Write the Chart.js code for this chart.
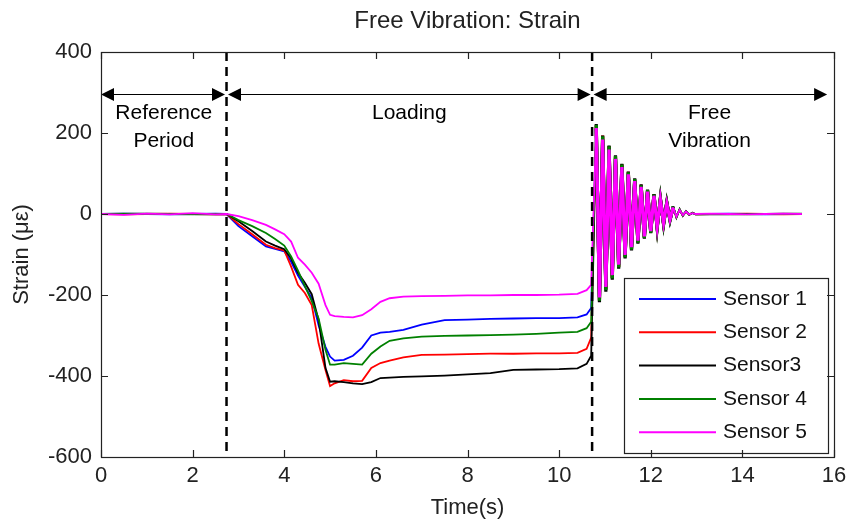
<!DOCTYPE html>
<html><head><meta charset="utf-8">
<style>html,body{margin:0;padding:0;background:#fff;}#wrap{width:847px;height:522px;}</style>
<script src="https://cdn.jsdelivr.net/npm/chart.js@4.4.1/dist/chart.umd.min.js"></script>
</head><body><div id="wrap"><canvas id="c" width="847" height="522"></canvas></div>
<script>
// ---- data ----
const time = [
  0, 0.5, 1.0, 1.5, 2.0, 2.5, 2.74,
  3.0, 3.3, 3.6, 3.8, 4.0, 4.15, 4.3, 4.45, 4.6, 4.75, 4.9, 5.0, 5.1, 5.3, 5.5, 5.7, 5.9, 6.1, 6.3, 6.6, 7.0, 7.5, 8.0, 8.5, 9.0, 9.5, 10.0, 10.4, 10.6, 10.7,
  10.81, 10.88, 10.95, 11.02, 11.09, 11.16, 11.23, 11.30, 11.37, 11.44, 11.51, 11.58, 11.65, 11.72, 11.79, 11.86,
  11.93, 12.00, 12.07, 12.14, 12.21, 12.28, 12.35, 12.42, 12.49, 12.56, 12.63, 12.70, 12.77, 12.84, 12.91, 12.98,
  13.3, 13.7, 14.1, 14.5, 14.9, 15.3
];
const sensor1 = [
  0, 1, 0, -1, 0, 1, 0,
  -30, -55, -80, -86, -92, -118, -152, -180, -207, -275, -328, -352, -362, -360, -350, -330, -300, -293, -291, -286, -273, -262, -261, -259, -258, -257, -257, -255, -248, -232,
  210, -205, 184, -180, 160, -152, 137, -126, 117, -102, 99, -83, 82, -67, 68, -56,
  56, -43, 46, -32, 36, -23, 27, -14, 17, -7, 10, -3, 6, -1, 2, 0,
  0, 1, 0, -1, 0, 0
];
const sensor2 = [
  0, -1, 0, 1, 0, -1, 0,
  -25, -50, -76, -84, -90, -130, -175, -195, -225, -320, -385, -425, -418, -410, -413, -412, -380, -368, -362, -354, -348, -347, -346, -345, -345, -344, -344, -343, -333, -305,
  218, -212, 194, -186, 168, -158, 142, -131, 123, -106, 104, -87, 85, -70, 72, -58,
  58, -45, 49, -33, 37, -24, 28, -14, 17, -8, 11, -4, 6, -2, 3, -1,
  0, 0, 1, 0, -1, 0
];
const sensor3 = [
  0, 0, 1, 0, 0, -1, 0,
  -18, -42, -68, -78, -87, -110, -145, -170, -198, -262, -380, -414, -413, -415, -418, -420, -415, -405, -404, -402, -401, -399, -396, -393, -385, -384, -383, -381, -370, -350,
  222, -218, 194, -192, 169, -162, 145, -135, 124, -110, 105, -90, 88, -73, 73, -61,
  60, -47, 49, -35, 39, -26, 29, -16, 19, -9, 12, -5, 7, -2, 3, -1,
  0, -1, 0, 0, 1, 0
];
const sensor4 = [
  0, 1, 0, 0, -1, 0, 0,
  -15, -30, -47, -62, -78, -105, -140, -178, -215, -258, -335, -372, -372, -368, -370, -372, -345, -327, -313, -307, -303, -301, -300, -299, -298, -296, -293, -291, -282, -266,
  220, -214, 192, -188, 167, -159, 143, -132, 122, -107, 103, -88, 86, -71, 71, -59,
  59, -46, 48, -34, 38, -25, 28, -15, 18, -8, 12, -4, 7, -2, 3, -1,
  0, 0, -1, 0, 0, 1
];
const sensor5 = [
  0, -2, 1, -1, 2, -1, 0,
  -5, -15, -27, -38, -50, -68, -108, -125, -145, -172, -225, -249, -252, -254, -255, -250, -235, -217, -208, -204, -203, -202, -201, -201, -200, -200, -199, -197, -188, -175,
  212, -206, 184, -180, 159, -151, 136, -125, 116, -101, 98, -82, 81, -66, 67, -55,
  55, -42, 45, -31, 35, -22, 26, -13, 16, -7, 10, -3, 6, -1, 2, 0,
  1, 0, -1, 0, 1, 0
];
const seriesNames = ['Sensor 1', 'Sensor 2', 'Sensor3', 'Sensor 4', 'Sensor 5'];
const xTicks = [0, 2, 4, 6, 8, 10, 12, 14, 16];
const yTicks = [-600, -400, -200, 0, 200, 400];
const phaseBounds = [0, 2.74, 10.72, 15.85];
const phaseLabels = [['Reference', 'Period'], ['Loading'], ['Free', 'Vibration']];
const arrowLevel = 296;
const chartTitle = 'Free Vibration: Strain';

// ---- styles ----
const seriesValues = [sensor1, sensor2, sensor3, sensor4, sensor5];
const seriesColors = ['#0000ff', '#ff0000', '#000000', '#008000', '#ff00ff'];
const FONT = "'Liberation Sans', Arial, sans-serif";
const INK = '#222222';
Chart.defaults.font.family = FONT;

const decor = {
  id: 'decor',
  afterDraw(chart) {
    const {ctx, chartArea: a, scales: {x, y}} = chart;
    ctx.save();
    // dashed phase separators
    ctx.strokeStyle = '#000'; ctx.lineWidth = 2.5; ctx.setLineDash([9, 6]);
    [phaseBounds[1], phaseBounds[2]].forEach(t => {
      const px = x.getPixelForValue(t);
      ctx.beginPath(); ctx.moveTo(px, a.top); ctx.lineTo(px, a.bottom); ctx.stroke();
    });
    ctx.setLineDash([]);
    // double arrows
    const ay = Math.round(y.getPixelForValue(arrowLevel)) + 0.5;
    ctx.lineWidth = 1.2; ctx.fillStyle = '#000'; ctx.strokeStyle = '#000';
    for (let i = 0; i < 3; i++) {
      const x0 = x.getPixelForValue(phaseBounds[i]) + (i > 0 ? 1.5 : 0);
      const x1 = x.getPixelForValue(phaseBounds[i + 1]) - (i < 2 ? 1.5 : 0);
      ctx.beginPath(); ctx.moveTo(x0 + 6, ay); ctx.lineTo(x1 - 6, ay); ctx.stroke();
      ctx.beginPath(); ctx.moveTo(x0, ay); ctx.lineTo(x0 + 13, ay - 6.5); ctx.lineTo(x0 + 13, ay + 6.5); ctx.closePath(); ctx.fill();
      ctx.beginPath(); ctx.moveTo(x1, ay); ctx.lineTo(x1 - 13, ay - 6.5); ctx.lineTo(x1 - 13, ay + 6.5); ctx.closePath(); ctx.fill();
      const cx = (x.getPixelForValue(phaseBounds[i]) + x.getPixelForValue(phaseBounds[i + 1])) / 2;
      ctx.font = '21px ' + FONT; ctx.textAlign = 'center'; ctx.textBaseline = 'middle';
      phaseLabels[i].forEach((s, k) => ctx.fillText(s, cx, ay + 19 + k * 28));
    }
    // legend
    const lw = 204, lh = 175;
    const lx = a.right - 6 - lw, ly = a.bottom - 4 - lh;
    ctx.fillStyle = '#fff'; ctx.fillRect(lx, ly, lw, lh);
    ctx.strokeStyle = '#222'; ctx.lineWidth = 1.2; ctx.strokeRect(Math.round(lx) + 0.5, Math.round(ly) + 0.5, lw, lh);
    ctx.font = '21px ' + FONT; ctx.textAlign = 'left'; ctx.textBaseline = 'middle';
    seriesNames.forEach((n, i) => {
      const yy = ly + 21 + i * 33.3;
      ctx.strokeStyle = seriesColors[i]; ctx.lineWidth = 2;
      ctx.beginPath(); ctx.moveTo(lx + 15, yy); ctx.lineTo(lx + 92, yy); ctx.stroke();
      ctx.fillStyle = '#111'; ctx.fillText(n, lx + 99, yy);
    });
    // axes box with inward ticks
    ctx.strokeStyle = INK; ctx.lineWidth = 1.2;
    ctx.strokeRect(a.left + 0.5, a.top + 0.5, a.right - a.left, a.bottom - a.top);
    ctx.beginPath();
    xTicks.forEach(v => {
      const px = Math.round(x.getPixelForValue(v)) + 0.5;
      ctx.moveTo(px, a.bottom); ctx.lineTo(px, a.bottom - 7);
      ctx.moveTo(px, a.top); ctx.lineTo(px, a.top + 7);
    });
    yTicks.forEach(v => {
      const py = Math.round(y.getPixelForValue(v)) + 0.5;
      ctx.moveTo(a.left, py); ctx.lineTo(a.left + 7, py);
      ctx.moveTo(a.right, py); ctx.lineTo(a.right - 7, py);
    });
    ctx.stroke();
    // title
    ctx.fillStyle = INK; ctx.font = '24px ' + FONT; ctx.textAlign = 'center'; ctx.textBaseline = 'middle';
    ctx.fillText(chartTitle, (a.left + a.right) / 2, 21);
    ctx.restore();
  }
};

new Chart(document.getElementById('c'), {
  type: 'line',
  data: {
    datasets: seriesValues.map((vals, i) => ({
      label: seriesNames[i],
      data: time.map((t, k) => ({x: t, y: vals[k]})),
      borderColor: seriesColors[i],
      borderWidth: 1.8,
      pointRadius: 0,
      tension: 0,
      fill: false,
      order: 5 - i,
      segment: {
        borderWidth: c => (c.p0.parsed.x >= 10.8 && c.p1.parsed.x <= 12.5) ? 3.2 : undefined
      }
    }))
  },
  options: {
    responsive: false,
    animation: false,
    devicePixelRatio: 1,
    layout: {padding: {top: 52, right: 0, left: 0, bottom: 0}},
    plugins: {legend: {display: false}, tooltip: {enabled: false}, title: {display: false}},
    scales: {
      x: {
        type: 'linear', min: 0, max: 16,
        afterBuildTicks: s => { s.ticks = xTicks.map(v => ({value: v})); },
        afterFit: s => { s.height = 65; s.paddingRight = 13; s.paddingLeft = 0; },
        grid: {display: false, drawTicks: false},
        border: {display: false},
        ticks: {font: {size: 22}, color: INK, padding: 6, maxRotation: 0},
        title: {display: true, text: 'Time(s)', font: {size: 22}, color: INK, padding: {top: 0, bottom: 1}}
      },
      y: {
        type: 'linear', min: -600, max: 400,
        afterBuildTicks: s => { s.ticks = yTicks.map(v => ({value: v})); },
        afterFit: s => { s.width = 101; },
        grid: {display: false, drawTicks: false},
        border: {display: false},
        ticks: {font: {size: 22}, color: INK, padding: 9},
        title: {display: true, text: 'Strain (με)', font: {size: 22}, color: INK, padding: {top: 9, bottom: 0}}
      }
    }
  },
  plugins: [decor]
});
</script>
</body></html>
